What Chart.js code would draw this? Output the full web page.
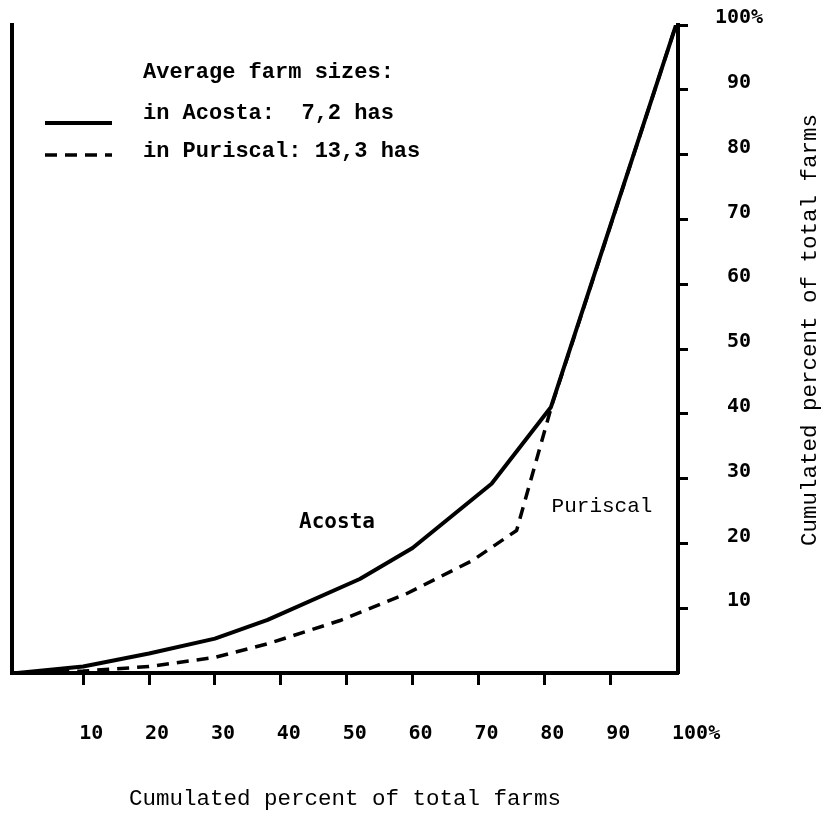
<!DOCTYPE html>
<html><head><meta charset="utf-8">
<script src="https://cdn.jsdelivr.net/npm/chart.js@4"></script>
<style>html,body{margin:0;padding:0;background:#fff}#wrap{width:829px;height:819px;position:relative}</style>
</head><body><div id="wrap"><canvas id="c" width="829" height="819"></canvas></div>
<script>
const xTicks = [10, 20, 30, 40, 50, 60, 70, 80, 90, 100];
const yTicks = [10, 20, 30, 40, 50, 60, 70, 80, 90, 100];
const acostaX = [0, 10, 20, 30, 38, 52, 60, 72, 81, 100];
const acostaY = [0, 1.0, 3.0, 5.3, 8.2, 14.5, 19.3, 29.2, 41, 100];
const puriscalX = [0, 10, 20, 30, 38, 49, 59, 69, 75.8, 81.2, 100];
const puriscalY = [0, 0.3, 1.0, 2.4, 4.5, 8.1, 12.2, 17.3, 22, 41.5, 100];
const seriesNames = ['Acosta', 'Puriscal'];
const legendTitle = 'Average farm sizes:';
const legendLines = ['in Acosta:  7,2 has', 'in Puriscal: 13,3 has'];
const axisTitle = 'Cumulated percent of total farms';

const pts = (xs, ys) => xs.map((x, i) => ({x: x, y: ys[i]}));
const numFont = {family: "'DejaVu Sans Mono', monospace", size: 20, weight: 'bold'};
const tickLabel = v => v === 100 ? '100%' : String(v);

const annot = {
  id: 'annot',
  afterDraw(chart) {
    const ctx = chart.ctx;
    const ds = chart.data.datasets;
    ctx.save();
    // legend samples
    [[123, ds[0]], [155, ds[1]]].forEach(([y, d]) => {
      ctx.beginPath();
      ctx.strokeStyle = d.borderColor;
      ctx.lineWidth = d.borderWidth;
      ctx.setLineDash(d.borderDash || []);
      ctx.moveTo(45, y); ctx.lineTo(112, y);
      ctx.stroke();
    });
    ctx.setLineDash([]);
    ctx.fillStyle = '#000';
    ctx.textBaseline = 'alphabetic';
    ctx.textAlign = 'left';
    ctx.font = "bold 22px 'Liberation Mono', monospace";
    ctx.fillText(legendTitle, 143, 78);
    ctx.fillText(legendLines[0], 143, 119);
    ctx.fillText(legendLines[1], 143, 157);
    // curve labels
    ctx.textAlign = 'center';
    ctx.textBaseline = 'middle';
    ctx.font = "bold 21px 'DejaVu Sans Mono', monospace";
    ctx.fillText(seriesNames[0], 337, 523);
    ctx.font = "21px 'Liberation Mono', monospace";
    ctx.fillText(seriesNames[1], 602, 506);
    // right axis title (reads bottom to top)
    ctx.translate(810, 330);
    ctx.rotate(-Math.PI / 2);
    ctx.font = "22.5px 'Liberation Mono', monospace";
    ctx.fillText(axisTitle, 0, 0);
    ctx.restore();
  }
};

new Chart(document.getElementById('c'), {
  type: 'line',
  data: {
    datasets: [
      {label: seriesNames[0], data: pts(acostaX, acostaY), borderColor: '#000', borderWidth: 4,
       pointRadius: 0, tension: 0, fill: false, borderJoinStyle: 'round', borderCapStyle: 'round', yAxisID: 'y'},
      {label: seriesNames[1], data: pts(puriscalX, puriscalY), borderColor: '#000', borderWidth: 3.5,
       borderDash: [12, 8], pointRadius: 0, tension: 0, fill: false, borderJoinStyle: 'round', yAxisID: 'y'}
    ]
  },
  options: {
    responsive: false,
    devicePixelRatio: 1,
    animation: false,
    layout: {padding: {left: 0, top: 25, right: 0, bottom: 0}},
    plugins: {legend: {display: false}, tooltip: {enabled: false}},
    scales: {
      x: {
        type: 'linear', position: 'bottom', min: -0.8, max: 100.3,
        afterBuildTicks: s => { s.ticks = xTicks.map(v => ({value: v})); },
        afterFit: s => { s.height = 146; s.paddingLeft = 0; s.paddingRight = 0; },
        grid: {drawOnChartArea: false, drawTicks: true, tickLength: 12, tickWidth: 3,
               tickColor: c => (c.tick && c.tick.value === 100) ? 'rgba(0,0,0,0)' : '#000'},
        border: {display: true, color: '#000', width: 4},
        ticks: {align: 'start', labelOffset: -4, padding: 37, color: '#000', font: numFont,
                autoSkip: false, maxRotation: 0, minRotation: 0, callback: tickLabel},
        title: {display: true, text: axisTitle, color: '#000',
                font: {family: "'Liberation Mono', monospace", size: 22.5}, padding: {top: 0, bottom: 6}}
      },
      y: {
        type: 'linear', position: 'right', min: 0, max: 100,
        afterBuildTicks: s => { s.ticks = yTicks.map(v => ({value: v})); },
        afterFit: s => { s.width = 151; s.paddingTop = 0; s.paddingBottom = 0; },
        grid: {drawOnChartArea: false, drawTicks: true, tickLength: 10, tickWidth: 3, tickColor: '#000'},
        border: {display: true, color: '#000', width: 4},
        ticks: {crossAlign: 'center', padding: 27, labelOffset: -7, color: '#000', font: numFont,
                autoSkip: false, callback: tickLabel}
      },
      yl: {
        type: 'linear', position: 'left', min: 0, max: 100,
        afterFit: s => { s.width = 12; s.paddingTop = 0; s.paddingBottom = 0; },
        grid: {display: false},
        border: {display: true, color: '#000', width: 4},
        ticks: {display: false}
      }
    }
  },
  plugins: [annot]
});
</script></body></html>
